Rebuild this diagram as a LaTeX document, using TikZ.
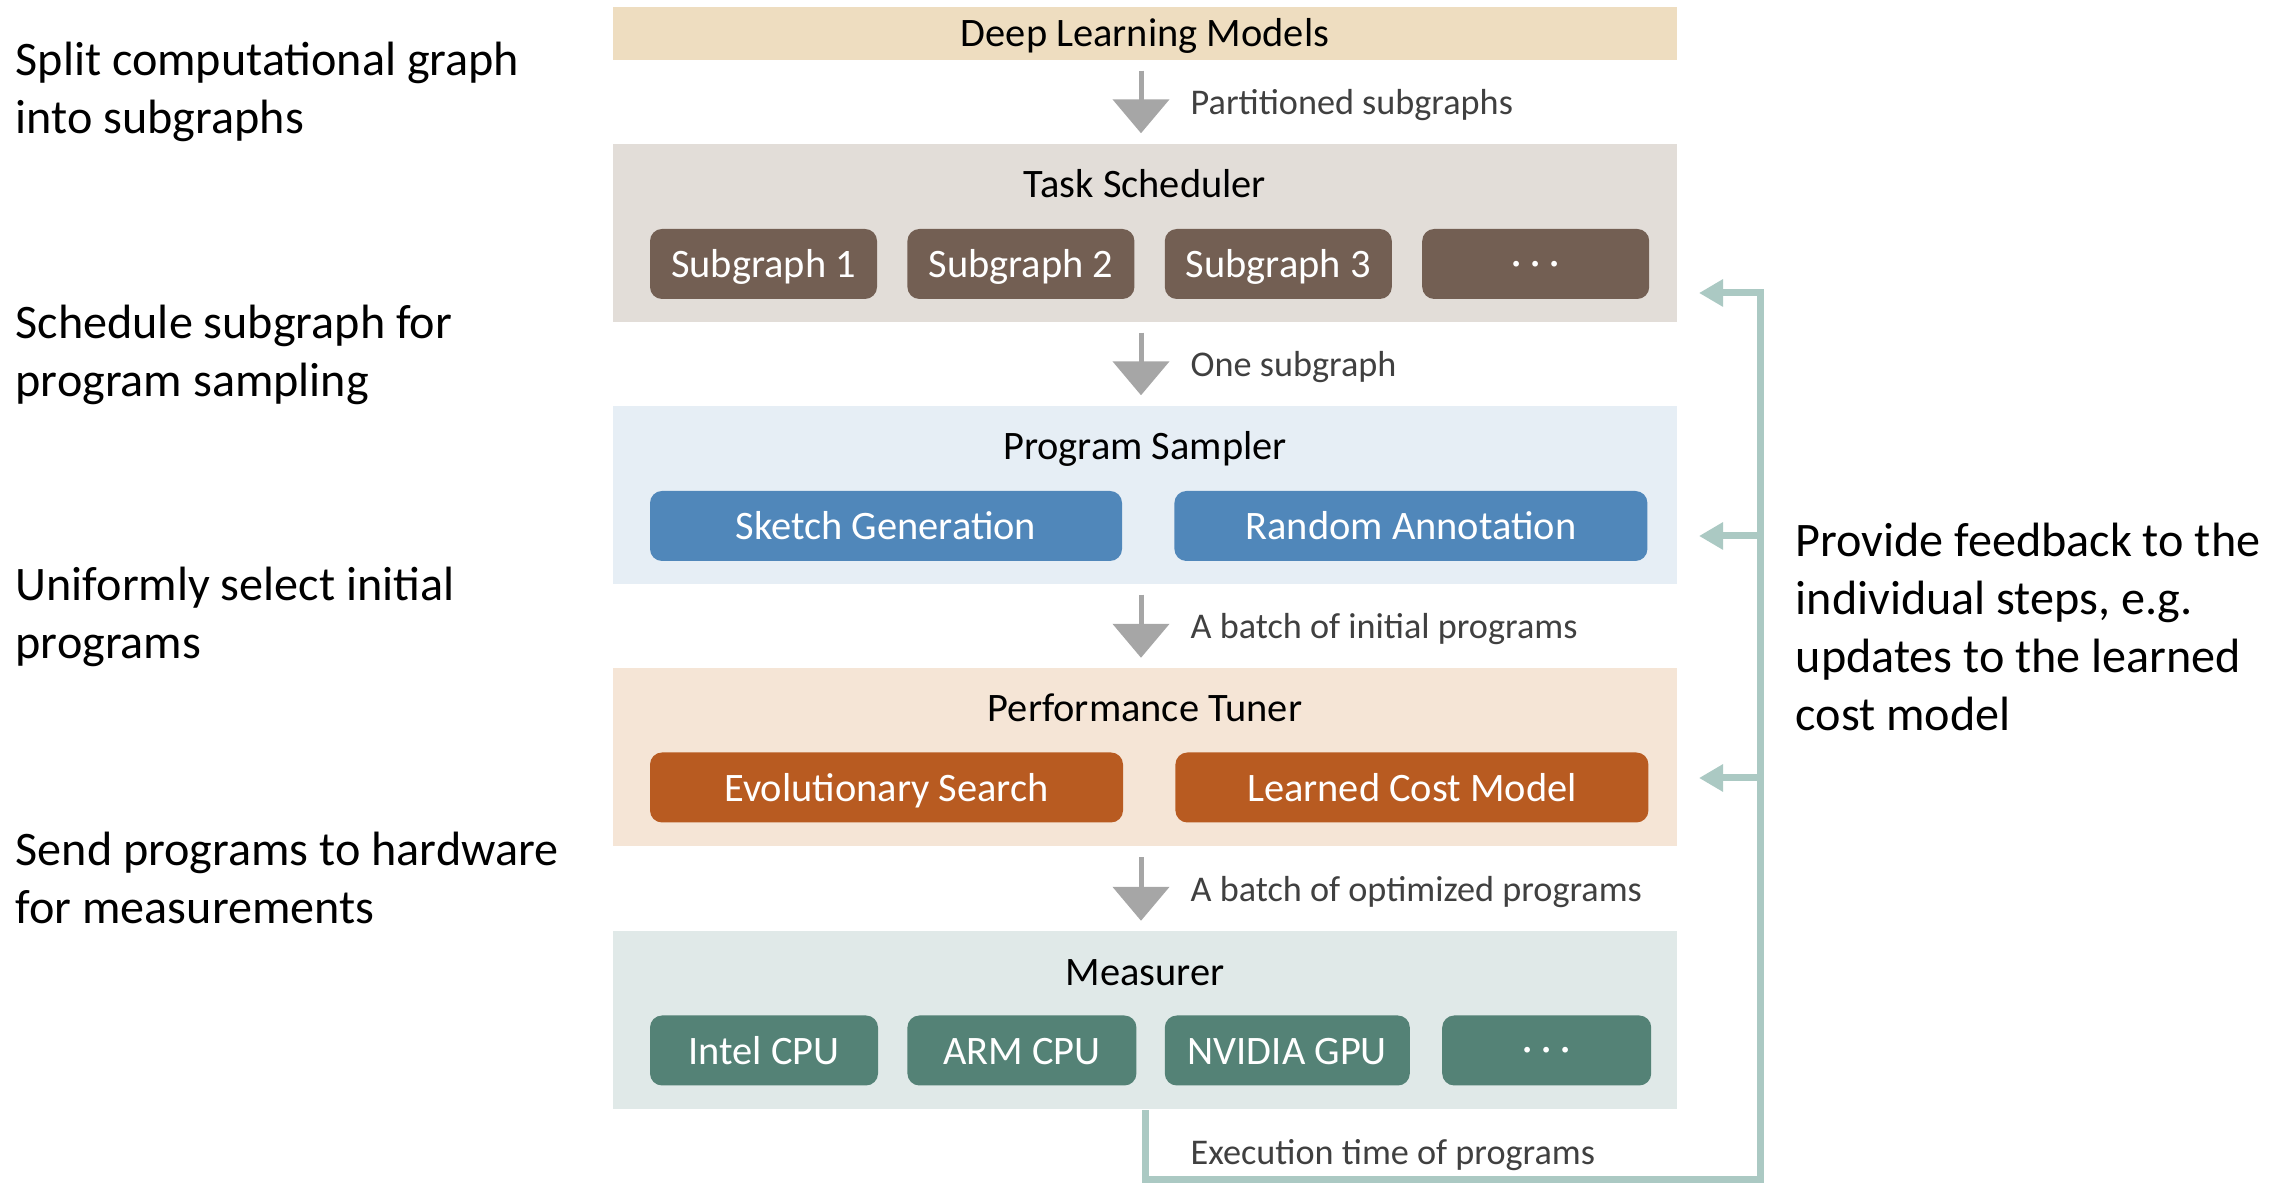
\documentclass[tikz,border=0pt]{standalone}
\usepackage{fontspec}
\setmainfont{Carlito}
\usetikzlibrary{positioning,calc,arrows.meta}

\definecolor{modelsfill}{RGB}{238,221,192}
\definecolor{schedfill}{RGB}{226,221,216}
\definecolor{schedbox}{RGB}{115,95,83}
\definecolor{samplerfill}{RGB}{230,238,245}
\definecolor{samplerbox}{RGB}{80,135,186}
\definecolor{tunerfill}{RGB}{245,229,214}
\definecolor{tunerbox}{RGB}{184,91,33}
\definecolor{measurefill}{RGB}{224,233,232}
\definecolor{measurebox}{RGB}{84,130,118}
\definecolor{flowgray}{RGB}{166,166,166}
\definecolor{labelgray}{RGB}{64,64,64}
\definecolor{fbgreen}{RGB}{171,201,195}

\begin{document}
\begin{tikzpicture}[
    band/.style={rectangle, minimum width=10.64cm, minimum height=1.78cm, inner sep=0pt},
    title/.style={inner sep=0pt, text height=0.72em, text depth=0pt,
        font=\fontsize{11.5}{14}\selectfont},
    unit/.style={rectangle, rounded corners=0.12cm, minimum height=0.70cm,
        inner sep=0pt, text height=0.78em, text depth=0pt, text=white,
        font=\fontsize{11.5}{14}\selectfont},
    flow/.style={draw=flowgray, line width=0.05cm,
        -{Triangle[width=0.56cm, length=0.34cm]},
        shorten <=0.1cm, shorten >=0.1cm},
    flowlabel/.style={anchor=west, inner sep=0pt, text height=0.72em, text depth=0pt,
        text=labelgray, font=\fontsize{10.3}{12}\selectfont},
    note/.style={anchor=west, align=left, inner sep=0pt,
        font=\fontsize{13.7}{16.5}\selectfont},
    feedback/.style={draw=fbgreen, line width=0.07cm,
        -{Triangle[width=0.26cm, length=0.24cm]}}
    ]
    \useasboundingbox (0,0) rectangle (22.84,11.84);

    \node[band, fill=modelsfill, minimum height=0.53cm, title] (models) at (11.45,11.505) {Deep Learning Models};

    \node[band, fill=schedfill] (sched) at (11.45,9.51) {};
    \node[title] (schedtitle) at ($(sched.north)+(0,-0.42)$) {Task Scheduler};
    \node[unit, fill=schedbox, minimum width=2.27cm, anchor=north west] (sg1)
        at ($(sched.north west)+(0.37,-0.85)$) {Subgraph 1};
    \node[unit, fill=schedbox, minimum width=2.27cm, right=0.29cm of sg1] (sg2) {Subgraph 2};
    \node[unit, fill=schedbox, minimum width=2.27cm, right=0.29cm of sg2] (sg3) {Subgraph 3};
    \node[unit, fill=schedbox, minimum width=2.27cm, text height=0.64em, right=0.29cm of sg3] (sg4)
        {\textperiodcentered\ \textperiodcentered\ \textperiodcentered};

    \node[band, fill=samplerfill] (sampler) at (11.45,6.89) {};
    \node[title] (samplertitle) at ($(sampler.north)+(0,-0.42)$) {Program Sampler};
    \node[unit, fill=samplerbox, minimum width=4.72cm, anchor=north west] (sketch)
        at ($(sampler.north west)+(0.37,-0.85)$) {Sketch Generation};
    \node[unit, fill=samplerbox, minimum width=4.73cm, right=0.51cm of sketch] (annot) {Random Annotation};

    \node[band, fill=tunerfill] (tuner) at (11.45,4.265) {};
    \node[title] (tunertitle) at ($(tuner.north)+(0,-0.41)$) {Performance Tuner};
    \node[unit, fill=tunerbox, minimum width=4.73cm, anchor=north west] (evo)
        at ($(tuner.north west)+(0.37,-0.84)$) {Evolutionary Search};
    \node[unit, fill=tunerbox, minimum width=4.73cm, right=0.51cm of evo] (cost) {Learned Cost Model};

    \node[band, fill=measurefill] (measurer) at (11.45,1.635) {};
    \node[title] (measurertitle) at ($(measurer.north)+(0,-0.42)$) {Measurer};
    \node[unit, fill=measurebox, minimum width=2.28cm, anchor=north west] (intel)
        at ($(measurer.north west)+(0.37,-0.84)$) {Intel CPU};
    \node[unit, fill=measurebox, minimum width=2.29cm, right=0.28cm of intel] (arm) {ARM CPU};
    \node[unit, fill=measurebox, minimum width=2.45cm, right=0.27cm of arm] (nvidia) {NVIDIA GPU};
    \node[unit, fill=measurebox, minimum width=2.09cm, text height=0.64em, right=0.31cm of nvidia] (more)
        {\textperiodcentered\ \textperiodcentered\ \textperiodcentered};

    \draw[flow] ([xshift=-0.04cm]models.south) -- ([xshift=-0.04cm]sched.north);
    \draw[flow] ([xshift=-0.04cm]sched.south) -- ([xshift=-0.04cm]sampler.north);
    \draw[flow] ([xshift=-0.04cm]sampler.south) -- ([xshift=-0.04cm]tuner.north);
    \draw[flow] ([xshift=-0.04cm]tuner.south) -- ([xshift=-0.04cm]measurer.north);

    \node[flowlabel] (partlabel) at ($(models.south)!0.5!(sched.north)+(0.45,0)$) {Partitioned subgraphs};
    \node[flowlabel] (onelabel) at ($(sched.south)!0.5!(sampler.north)+(0.45,0)$) {One subgraph};
    \node[flowlabel] (initlabel) at ($(sampler.south)!0.5!(tuner.north)+(0.45,0)$) {A batch of initial programs};
    \node[flowlabel] (optlabel) at ($(tuner.south)!0.5!(measurer.north)+(0.45,0)$) {A batch of optimized programs};
    \node[flowlabel] (execlabel) at (11.90,0.32) {Execution time of programs};

    \coordinate (fbcorner) at (17.60,0.04);
    \coordinate (fbsched) at (16.99,8.91);
    \coordinate (fbsampler) at (16.99,6.48);
    \coordinate (fbtuner) at (16.99,4.06);
    \draw[feedback] (measurer.south) |- (fbcorner) |- (fbsched);
    \draw[feedback] (fbcorner |- fbsampler) -- (fbsampler);
    \draw[feedback] (fbcorner |- fbtuner) -- (fbtuner);

    \node[note] (splitnote) at (0.15,10.92) {Split computational graph\\into subgraphs};
    \node[note] (schednote) at (0.15,8.29) {Schedule subgraph for\\program sampling};
    \node[note] (selectnote) at (0.15,5.67) {Uniformly select initial\\programs};
    \node[note] (sendnote) at (0.15,3.06) {Send programs to hardware\\for measurements};
    \node[note] (feedbacknote) at (17.95,5.57) {Provide feedback to the\\individual steps, e.g.\\updates to the learned\\cost model};
\end{tikzpicture}
\end{document}
